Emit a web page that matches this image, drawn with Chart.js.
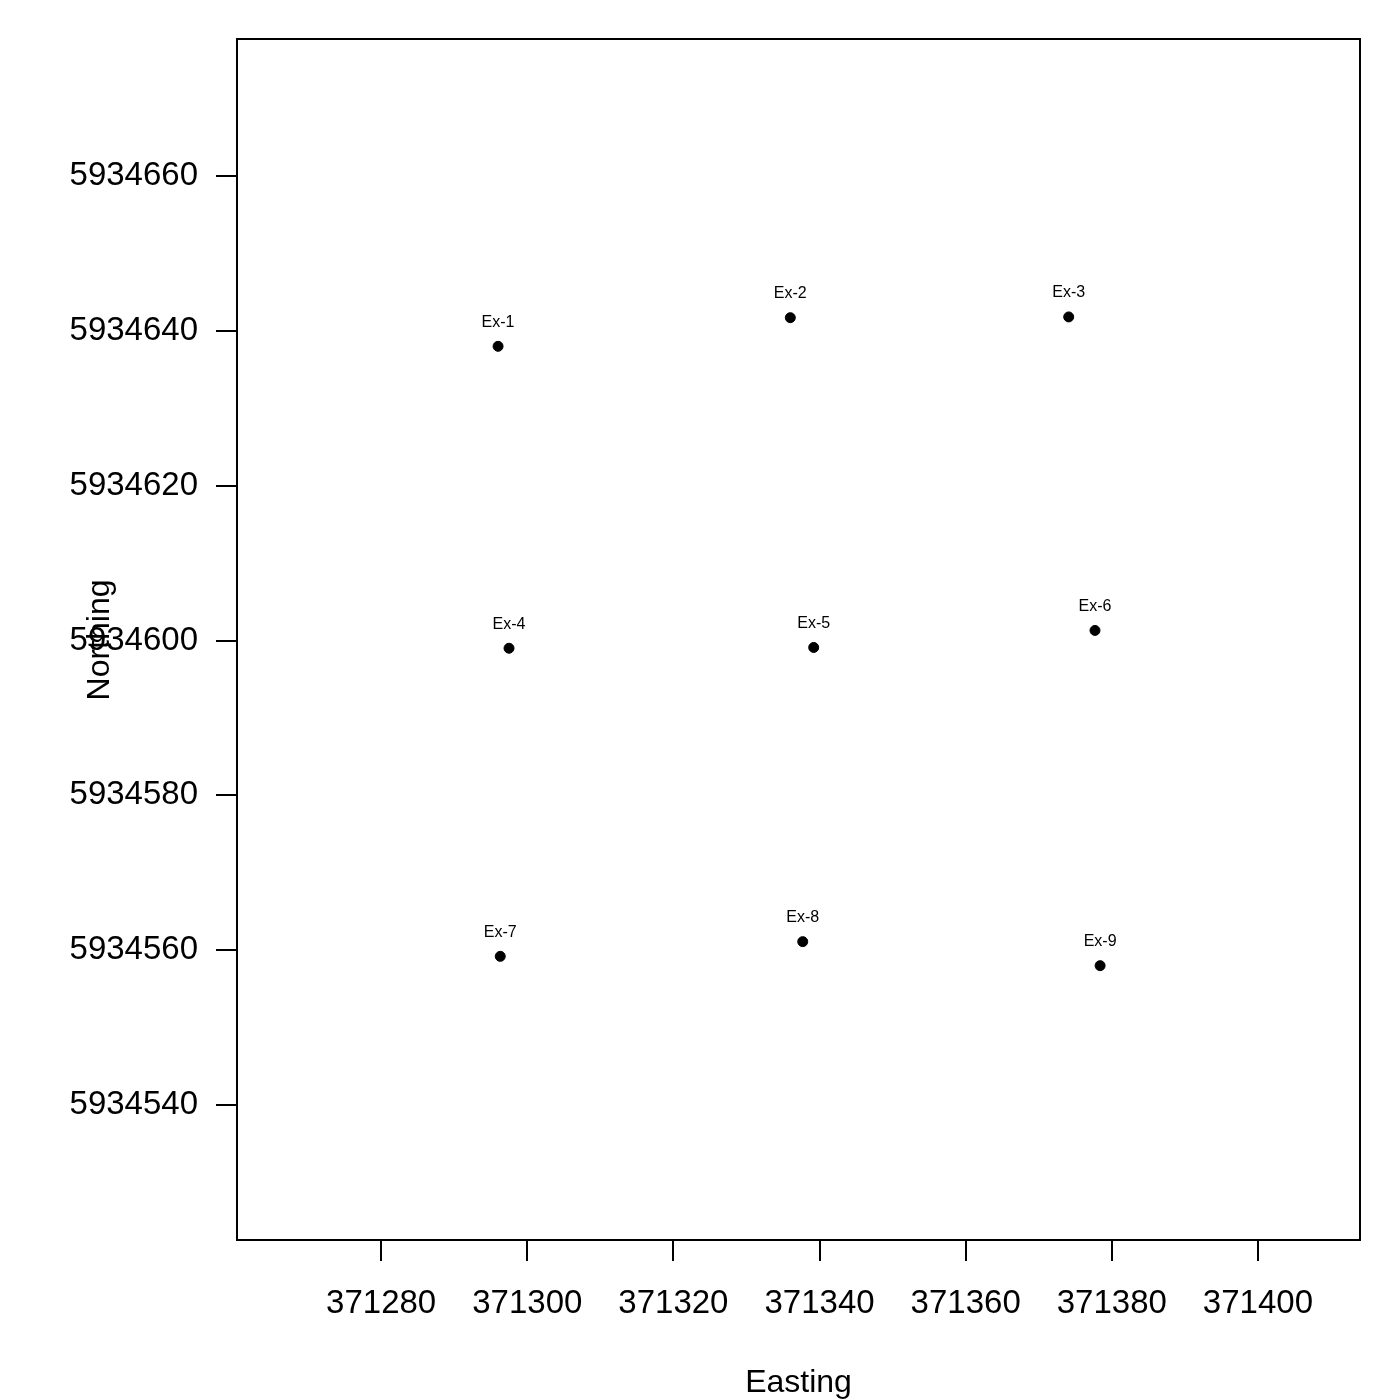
<!DOCTYPE html>
<html>
<head>
<meta charset="utf-8">
<script src="https://cdn.jsdelivr.net/npm/chart.js@4/dist/chart.umd.min.js"></script>
<style>
  html, body { margin: 0; padding: 0; background: #fff; }
  #wrap { width: 1400px; height: 1400px; }
</style>
</head>
<body>
<div id="wrap"><canvas id="plot" width="1400" height="1400"></canvas></div>
<script>
// 点の名前と座標
const pointNames = ['Ex-1', 'Ex-2', 'Ex-3', 'Ex-4', 'Ex-5', 'Ex-6', 'Ex-7', 'Ex-8', 'Ex-9'];
const eastings = [371296.0, 371336.0, 371374.1, 371297.5, 371339.2, 371377.7, 371296.3, 371337.7, 371378.4];
const northings = [5934638.0, 5934641.7, 5934641.8, 5934599.0, 5934599.1, 5934601.3, 5934559.2, 5934561.1, 5934558.0];

// 目盛り
const xTicks = [371280, 371300, 371320, 371340, 371360, 371380, 371400];
const yTicks = [5934540, 5934560, 5934580, 5934600, 5934620, 5934640, 5934660];

const FONT = 'Arial, "Liberation Sans", sans-serif';

// 枠線・軸タイトル・ラベル
const rPlotPlugin = {
    id: 'rPlot',
    afterDatasetsDraw(chart) {
        const ctx = chart.ctx;
        const a = chart.chartArea;
        ctx.save();
        ctx.strokeStyle = '#000';
        ctx.lineWidth = 2;
        ctx.strokeRect(a.left, a.top, a.right - a.left, a.bottom - a.top);

        // 点のラベル
        const meta = chart.getDatasetMeta(0);
        ctx.fillStyle = '#000';
        ctx.font = '16px ' + FONT;
        ctx.textAlign = 'center';
        ctx.textBaseline = 'middle';
        meta.data.forEach((pt, i) => {
            ctx.fillText(pointNames[i], pt.x, pt.y - 24);
        });

        // 軸タイトル
        ctx.font = '32px ' + FONT;
        ctx.fillText('Easting', (a.left + a.right) / 2, 1383);
        ctx.translate(100, 640);
        ctx.rotate(-Math.PI / 2);
        ctx.fillText('Northing', 0, 0);
        ctx.restore();
    }
};

const ctx = document.getElementById('plot').getContext('2d');
new Chart(ctx, {
    type: 'scatter',
    data: {
        datasets: [{
            label: 'wells',
            data: eastings.map((x, i) => ({ x: x, y: northings[i] })),
            backgroundColor: '#000',
            borderColor: '#000',
            pointRadius: 5,
            pointHoverRadius: 5
        }]
    },
    options: {
        responsive: false,
        animation: false,
        layout: { padding: { top: 39, right: 40, left: 0, bottom: 0 } },
        plugins: {
            legend: { display: false },
            tooltip: { enabled: false }
        },
        scales: {
            x: {
                type: 'linear',
                min: 371260.27,
                max: 371413.97,
                afterBuildTicks: axis => { axis.ticks = xTicks.map(v => ({ value: v })); },
                afterFit: axis => { axis.height = 160; },
                ticks: {
                    font: { size: 33, family: FONT },
                    color: '#000',
                    padding: 23,
                    maxRotation: 0,
                    callback: v => String(v)
                },
                grid: { drawOnChartArea: false, drawTicks: true, tickLength: 21, color: '#000', lineWidth: 2 },
                border: { display: true, color: '#000', width: 2 }
            },
            y: {
                type: 'linear',
                min: 5934522.56,
                max: 5934677.7,
                afterBuildTicks: axis => { axis.ticks = yTicks.map(v => ({ value: v })); },
                afterFit: axis => { axis.width = 237; },
                ticks: {
                    font: { size: 33, family: FONT },
                    color: '#000',
                    padding: 18,
                    callback: v => String(v)
                },
                grid: { drawOnChartArea: false, drawTicks: true, tickLength: 21, color: '#000', lineWidth: 2 },
                border: { display: true, color: '#000', width: 2 }
            }
        }
    },
    plugins: [rPlotPlugin]
});
</script>
</body>
</html>
